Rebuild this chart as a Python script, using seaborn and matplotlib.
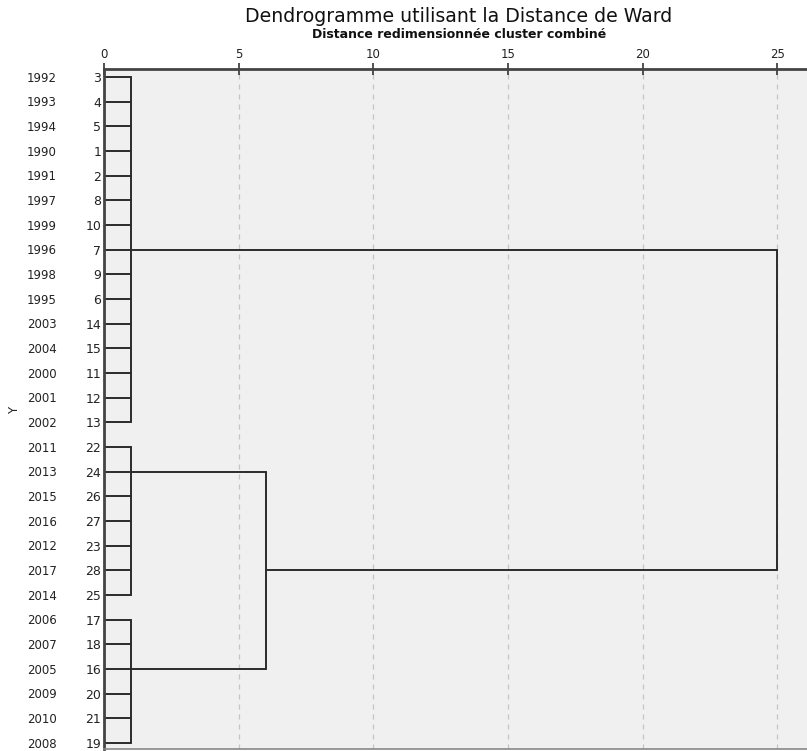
import matplotlib
matplotlib.use("Agg")
import matplotlib.pyplot as plt
import matplotlib.transforms as mtransforms
import seaborn as sns
import pandas as pd

# ---- data ----
years = [1992, 1993, 1994, 1990, 1991, 1997, 1999, 1996, 1998, 1995, 2003, 2004, 2000, 2001, 2002,
         2011, 2013, 2015, 2016, 2012, 2017, 2014,
         2006, 2007, 2005, 2009, 2010, 2008]
cases = [3, 4, 5, 1, 2, 8, 10, 7, 9, 6, 14, 15, 11, 12, 13,
         22, 24, 26, 27, 23, 28, 25,
         17, 18, 16, 20, 21, 19]
# first-level clusters: (first leaf row, last leaf row, row of outgoing link, merge distance)
cluster_first = [0, 15, 22]
cluster_last = [14, 21, 27]
cluster_link_row = [7, 16, 24]
cluster_height = [1.0, 1.0, 1.0]
# second-level merge of clusters 2 and 3
merge_bc_height = 6.0
merge_bc_link_row = 20
# final merge
merge_all_height = 25.0
xticks = [0, 5, 10, 15, 20, 25]

# ---- build segments ----
segs = []
def seg(x0, y0, x1, y1):
    sid = len(segs) // 2
    segs.append(dict(seg=sid, x=x0, y=y0))
    segs.append(dict(seg=sid, x=x1, y=y1))

for f, l, h in zip(cluster_first, cluster_last, cluster_height):
    for r in range(f, l + 1):
        seg(0, r, h, r)
    seg(h, f, h, l)
seg(cluster_height[1], cluster_link_row[1], merge_bc_height, cluster_link_row[1])
seg(cluster_height[2], cluster_link_row[2], merge_bc_height, cluster_link_row[2])
seg(merge_bc_height, cluster_link_row[1], merge_bc_height, cluster_link_row[2])
seg(cluster_height[0], cluster_link_row[0], merge_all_height, cluster_link_row[0])
seg(merge_bc_height, merge_bc_link_row, merge_all_height, merge_bc_link_row)
seg(merge_all_height, cluster_link_row[0], merge_all_height, merge_bc_link_row)
df = pd.DataFrame(segs)

# ---- figure ----
sns.set_theme(style="white")
plt.rcParams['font.family'] = ['DejaVu Sans']
W, H = 807, 751
fig = plt.figure(figsize=(W / 100, H / 100), dpi=100)
ax = fig.add_axes([104 / W, 1 - 749 / H, 1 - 104 / W + 0.01, 680 / H])
ax.set_facecolor("#f0f0f0")

for xv in xticks[1:]:
    ax.axvline(xv, color="#c4c4c4", lw=0.9, ls=(0, (4, 4)), zorder=0)

sns.lineplot(data=df, x="x", y="y", units="seg", estimator=None, sort=False,
             color="#2b2b2b", lw=1.4, ax=ax, legend=False)

ax.set_xlim(0, 26.4)
ax.set_ylim(27 + 6 / 24.67, -8 / 24.67)
ax.xaxis.tick_top()
ax.set_xticks(xticks)
ax.set_xticklabels([str(t) for t in xticks], fontsize=8.5, color="#222222")
ax.tick_params(axis="x", direction="inout", length=9, width=1.2, color="#333333", pad=1.5)
ax.set_yticks(range(len(cases)))
ax.set_yticklabels([str(c) for c in cases], fontsize=9, color="#222222")
ax.tick_params(axis="y", length=0, pad=2)
ax.set_xlabel("")
ax.set_ylabel("")

for side in ["left", "top"]:
    ax.spines[side].set_color("#444444")
    ax.spines[side].set_linewidth(2.0)
ax.spines["bottom"].set_color("#888888")
ax.spines["bottom"].set_linewidth(1.2)
ax.spines["right"].set_visible(False)

trans = mtransforms.blended_transform_factory(fig.transFigure, ax.transData)
for r, yr in enumerate(years):
    ax.text(42 / W, r + 0.05, str(yr), transform=trans, ha="center", va="center",
            fontsize=8.5, color="#222222")

fig.text(15 / W, 1 - 410 / H, "Y", rotation=90, ha="center", va="center",
         fontsize=8.5, color="#222222")
fig.text(459 / W, 1 - 16 / H, "Dendrogramme utilisant la Distance de Ward",
         ha="center", va="center", fontsize=13.6, color="#111111")
fig.text(459 / W, 1 - 34 / H, "Distance redimensionnée cluster combiné",
         ha="center", va="center", fontsize=9, fontweight="bold", color="#111111")

fig.savefig("out.png", dpi=100)
